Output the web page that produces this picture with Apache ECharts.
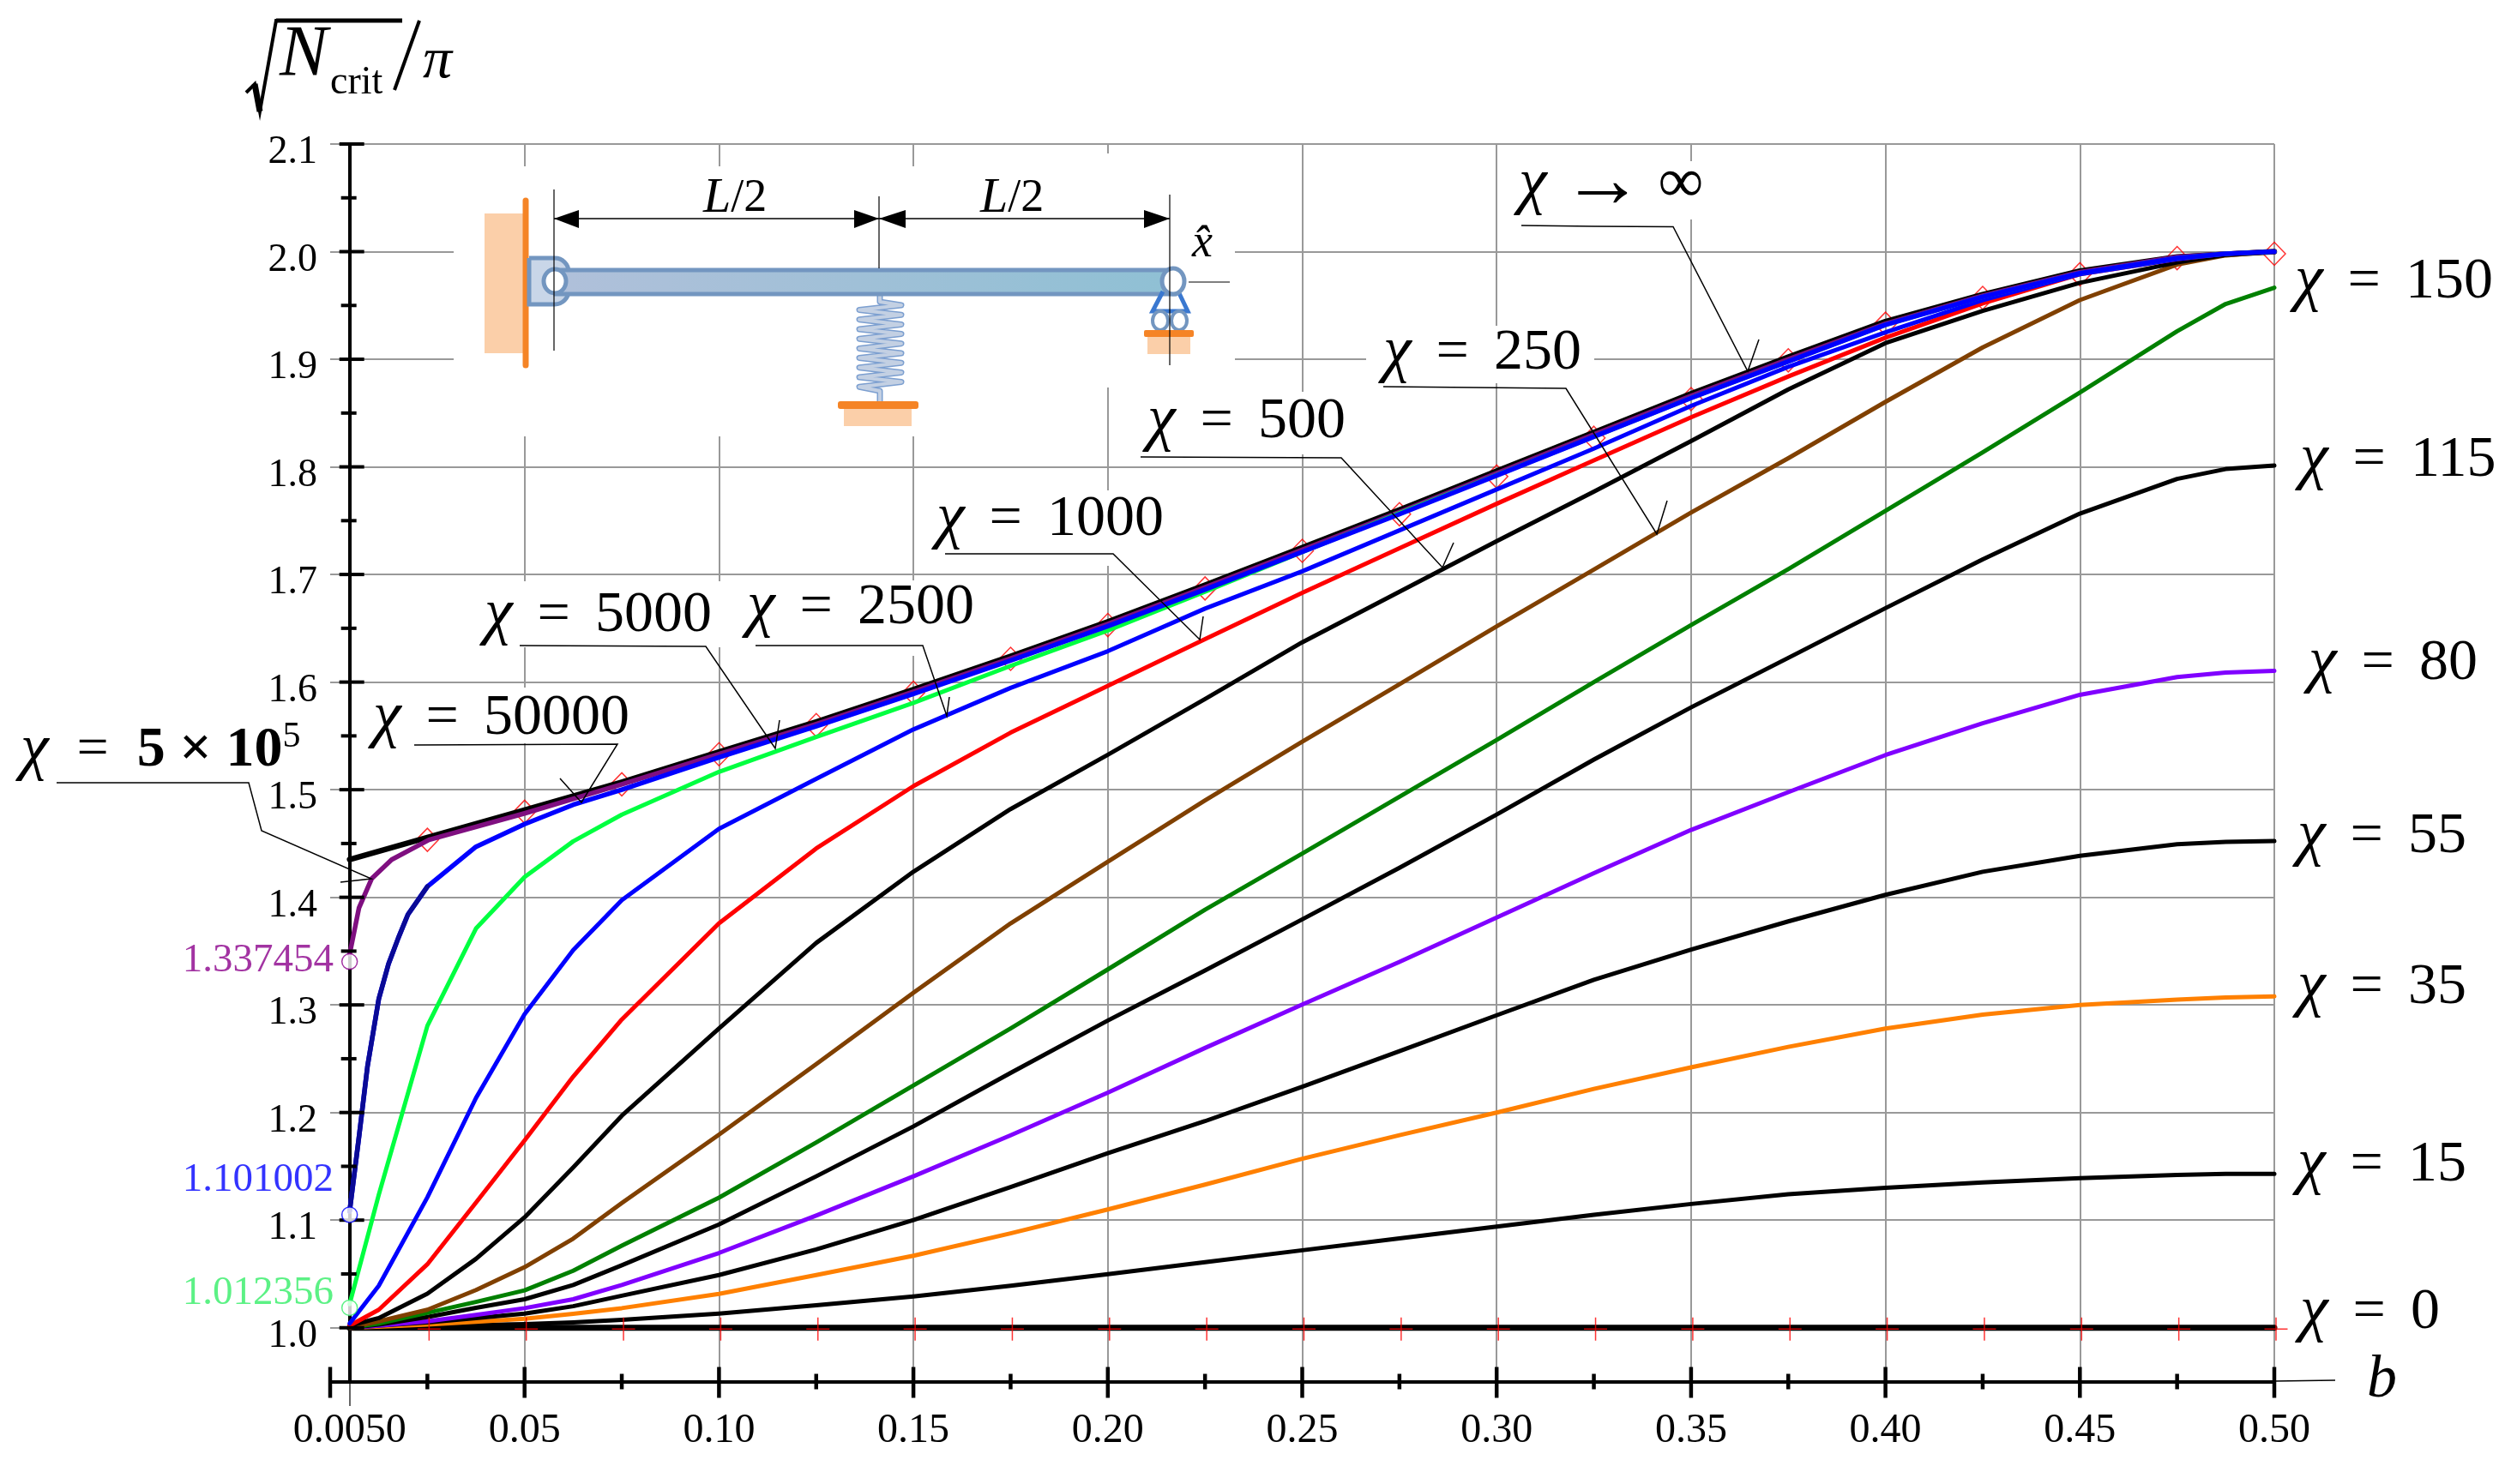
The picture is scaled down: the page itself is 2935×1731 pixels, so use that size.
<!DOCTYPE html>
<html>
<head>
<meta charset="utf-8">
<title>Critical load vs b</title>
<script src="https://cdn.jsdelivr.net/npm/echarts@6/dist/echarts.min.js"></script>
<style>
  html, body { margin: 0; padding: 0; background: #fff; }
  #chart { width: 2935px; height: 1731px; }
</style>
</head>
<body>
<div id="chart"></div>
<script>
// b positions shared by most curves
const bGrid = [0.005, 0.0125, 0.025, 0.0375, 0.05, 0.0625, 0.075, 0.1, 0.125, 0.15, 0.175, 0.2, 0.225, 0.25, 0.275, 0.3, 0.325, 0.35, 0.375, 0.4, 0.425, 0.45, 0.475, 0.4875, 0.5];

const chi0 = [1, 1, 1, 1, 1, 1, 1, 1, 1, 1, 1, 1, 1, 1, 1, 1, 1, 1, 1, 1, 1, 1, 1, 1, 1];
const chi15 = [1.0, 1.0005, 1.0015, 1.0025, 1.0033, 1.005, 1.0073, 1.0132, 1.0209, 1.0291, 1.0391, 1.0497, 1.061, 1.072, 1.083, 1.094, 1.105, 1.115, 1.124, 1.13, 1.135, 1.139, 1.142, 1.143, 1.143];
const chi35 = [1.0, 1.001, 1.003, 1.0055, 1.0083, 1.013, 1.0182, 1.0315, 1.049, 1.0669, 1.0877, 1.1099, 1.133, 1.157, 1.179, 1.2, 1.222, 1.242, 1.261, 1.278, 1.291, 1.3, 1.305, 1.307, 1.308];
const chi55 = [1.0, 1.002, 1.005, 1.009, 1.0132, 1.02, 1.0298, 1.049, 1.0728, 1.1, 1.1308, 1.1623, 1.192, 1.224, 1.257, 1.2904, 1.3234, 1.3514, 1.3776, 1.4023, 1.4237, 1.4385, 1.4493, 1.4516, 1.4523];
const chi80 = [1.0, 1.002, 1.006, 1.012, 1.0182, 1.0265, 1.0397, 1.0695, 1.1043, 1.1407, 1.1788, 1.2185, 1.26, 1.3003, 1.34, 1.3812, 1.4224, 1.4626, 1.4977, 1.5322, 1.5618, 1.5882, 1.6046, 1.6089, 1.6105];
const chi115 = [1.0, 1.003, 1.01, 1.0185, 1.0265, 1.0397, 1.058, 1.096, 1.1407, 1.1871, 1.2368, 1.2855, 1.332, 1.3795, 1.4274, 1.4769, 1.528, 1.5765, 1.6225, 1.6687, 1.714, 1.7566, 1.7888, 1.798, 1.8013];
const chi150 = [1.0, 1.004, 1.0138, 1.024, 1.0348, 1.053, 1.0762, 1.1209, 1.1722, 1.2252, 1.2781, 1.333, 1.3885, 1.4406, 1.4935, 1.5462, 1.6, 1.6529, 1.705, 1.7592, 1.8135, 1.869, 1.926, 1.9514, 1.9665];
const chi250 = [1.0, 1.006, 1.0167, 1.035, 1.0563, 1.0828, 1.1159, 1.1795, 1.245, 1.3113, 1.3758, 1.433, 1.49, 1.5446, 1.598, 1.6518, 1.7046, 1.7575, 1.808, 1.8604, 1.911, 1.955, 1.988, 1.9965, 2.0];
const chi500 = [1.002, 1.009, 1.0316, 1.064, 1.1026, 1.149, 1.197, 1.2781, 1.3576, 1.4238, 1.482, 1.5325, 1.5842, 1.637, 1.684, 1.731, 1.777, 1.824, 1.872, 1.915, 1.945, 1.971, 1.99, 1.997, 2.0];
const chi1000 = [1.002, 1.0167, 1.059, 1.1163, 1.174, 1.2334, 1.2864, 1.3758, 1.4454, 1.5033, 1.553, 1.5965, 1.64, 1.683, 1.7244, 1.7657, 1.806, 1.846, 1.884, 1.92, 1.952, 1.979, 1.993, 1.998, 2.0];
const chi2500 = [1.004, 1.039, 1.1212, 1.2135, 1.2914, 1.351, 1.3974, 1.4636, 1.51, 1.556, 1.5946, 1.6287, 1.6683, 1.703, 1.741, 1.779, 1.817, 1.8566, 1.893, 1.925, 1.955, 1.979, 1.993, 1.998, 2.0];
const chi5000 = [1.022, 1.1236, 1.2805, 1.371, 1.4189, 1.452, 1.4768, 1.5166, 1.549, 1.5806, 1.615, 1.648, 1.684, 1.7208, 1.757, 1.7924, 1.828, 1.8641, 1.898, 1.932, 1.958, 1.98, 1.994, 1.998, 2.0];

// steep curves have extra points near the wall
const b50000 = [0.005, 0.0075, 0.0096, 0.0125, 0.015, 0.0175, 0.02, 0.025, 0.0375, 0.05, 0.0625, 0.075, 0.1, 0.125, 0.15, 0.175, 0.2, 0.225, 0.25, 0.275, 0.3, 0.325, 0.35, 0.375, 0.4, 0.425, 0.45, 0.475, 0.4875, 0.5];
const chi50000 = [1.108, 1.18, 1.243, 1.3055, 1.338, 1.362, 1.384, 1.41, 1.447, 1.468, 1.486, 1.5, 1.53, 1.559, 1.589, 1.62, 1.652, 1.686, 1.721, 1.756, 1.792, 1.828, 1.864, 1.898, 1.932, 1.958, 1.98, 1.994, 1.998, 2.0];
const b500000 = [0.005, 0.0074, 0.0107, 0.0158, 0.0254, 0.05, 0.075, 0.1, 0.125, 0.15, 0.175, 0.2, 0.225, 0.25, 0.275, 0.3, 0.325, 0.35, 0.375, 0.4, 0.425, 0.45, 0.475, 0.4875, 0.5];
const chi500000 = [1.347, 1.39, 1.4175, 1.435, 1.4534, 1.478, 1.505, 1.533, 1.561, 1.591, 1.622, 1.654, 1.688, 1.723, 1.758, 1.794, 1.83, 1.866, 1.9, 1.933, 1.959, 1.981, 1.995, 1.998, 2.0];

const bInf = [0.005, 0.025, 0.05, 0.075, 0.1, 0.125, 0.15, 0.175, 0.2, 0.225, 0.25, 0.275, 0.3, 0.325, 0.35, 0.375, 0.4, 0.425, 0.45, 0.475, 0.5];
const chiInf = [1.435, 1.4555, 1.481, 1.507, 1.535, 1.563, 1.593, 1.624, 1.656, 1.69, 1.725, 1.76, 1.796, 1.832, 1.868, 1.902, 1.935, 1.96, 1.982, 1.995, 2.0];

// red reference markers
const bMarkers = [0.025, 0.05, 0.075, 0.1, 0.125, 0.15, 0.175, 0.2, 0.225, 0.25, 0.275, 0.3, 0.325, 0.35, 0.375, 0.4, 0.425, 0.45, 0.475, 0.5];
const diamondValues = [1.4534, 1.4795, 1.505, 1.533, 1.56, 1.59, 1.6216, 1.653, 1.687, 1.722, 1.756, 1.791, 1.827, 1.863, 1.899, 1.933, 1.957, 1.979, 1.994, 1.998];
const plusValues = [0.9988, 0.9988, 0.9988, 0.9988, 0.9988, 0.9988, 0.9988, 0.9988, 0.9988, 0.9988, 0.9988, 0.9988, 0.9988, 0.9988, 0.9988, 0.9988, 0.9988, 0.9988, 0.9988, 0.9988];

// circled start values on the axis
const startLabels = ["1.337454", "1.101002", "1.012356"];
const startCircles = [1.3403, 1.105, 1.0186];

// axis ticks and labels
const xMajorTicks = [0, 0.05, 0.1, 0.15, 0.2, 0.25, 0.3, 0.35, 0.4, 0.45, 0.5];
const xMinorTicks = [0.025, 0.075, 0.125, 0.175, 0.225, 0.275, 0.325, 0.375, 0.425, 0.475];
const xGridLines = [0.05, 0.1, 0.15, 0.2, 0.25, 0.3, 0.35, 0.4, 0.45, 0.5];
const xTickLabels = [0.005, 0.05, 0.1, 0.15, 0.2, 0.25, 0.3, 0.35, 0.4, 0.45, 0.5];
const yMajorTicks = [1.0, 1.1, 1.2, 1.3, 1.4, 1.5, 1.6, 1.7, 1.8, 1.9, 2.0, 2.1];
const yMinorTicks = [1.05, 1.15, 1.25, 1.35, 1.45, 1.55, 1.65, 1.75, 1.85, 1.95, 2.05];

const SERIF = '"Liberation Serif"';
const Y_AXIS_B = 0.005;

const pairs = (xs, ys) => xs.map((x, i) => [x, ys[i]]);

const curve = (name, xs, ys, color, width) => ({
  name: name,
  type: "line",
  data: pairs(xs, ys),
  showSymbol: false,
  silent: true,
  clip: false,
  lineStyle: { color: color, width: width, join: "round", cap: "round" },
});

const tickSeries = (data, renderOne) => ({
  type: "custom",
  silent: true,
  clip: false,
  encode: { x: 0, y: 1 },
  data: data,
  z: 4,
  renderItem: (params, api) => {
    const p = api.coord([api.value(0), api.value(1)]);
    return renderOne(p);
  },
});

const tickLine = (x1, y1, x2, y2, width) => ({
  type: "line",
  shape: { x1: x1, y1: y1, x2: x2, y2: y2 },
  style: { stroke: "#000", lineWidth: width },
});

const startDot = (index, color, labelOffset) => ({
  type: "scatter",
  silent: true,
  clip: false,
  z: 6,
  symbol: "circle",
  symbolSize: 18,
  data: [[Y_AXIS_B, startCircles[index]]],
  itemStyle: { color: "#fff", borderColor: color, borderWidth: 1.5 },
  label: {
    show: true,
    position: "left",
    distance: 9,
    offset: [0, labelOffset],
    formatter: startLabels[index],
    color: color,
    fontFamily: SERIF,
    fontSize: 47,
  },
});

const chiRich = {
  c: { fontFamily: SERIF, fontStyle: "italic", fontSize: 74 },
  b: { fontFamily: SERIF, fontWeight: "bold", fontSize: 66 },
  s: { fontFamily: SERIF, fontSize: 42, verticalAlign: "top" },
  a: { fontFamily: SERIF, fontSize: 96 },
  i: { fontFamily: SERIF, fontSize: 74 },
  e: { fontFamily: SERIF, fontSize: 58 },
};

const textEl = (text, x, y, font, extra) => ({
  type: "text",
  z: 8,
  silent: true,
  x: x,
  y: y,
  style: Object.assign({ text: text, font: font, fill: "#000", align: "left", verticalAlign: "middle" }, extra || {}),
});

const chiLabel = (value, x, y) =>
  textEl("{c|\u03C7}{e|\u00A0\u00A0}={e|\u00A0\u00A0}" + value, x, y + 4, "68px " + SERIF, { rich: chiRich });

const whiteBox = (x1, y1, x2, y2) => ({
  type: "rect",
  z: 1,
  silent: true,
  shape: { x: x1, y: y1, width: x2 - x1, height: y2 - y1 },
  style: { fill: "#fff" },
});

const leader = (points) => ({
  type: "polyline",
  z: 7,
  silent: true,
  shape: { points: points },
  style: { stroke: "#000", lineWidth: 1.5, fill: null },
});

const shape = (type, geom, style) => ({ type: type, z: 5, silent: true, shape: geom, style: style });

const springPoints = () => {
  const pts = [[1026, 345], [1026, 352]];
  for (let i = 0; i < 18; i++) {
    pts.push([i % 2 ? 1002 : 1051, 356 + i * 5.6]);
  }
  pts.push([1026, 456], [1026, 470]);
  return pts;
};

const insetDrawing = () => {
  const blueEdge = "#7396c0";
  const peach = "#fbcfa9";
  const orange = "#f58426";
  const labelRich = { c: { fontFamily: SERIF, fontStyle: "italic", fontSize: 58 } };
  return [
    shape("rect", { x: 565, y: 249, width: 45, height: 163 }, { fill: peach }),
    shape("line", { x1: 613, y1: 234, x2: 613, y2: 426 }, { stroke: orange, lineWidth: 7, lineCap: "round" }),
    shape("rect", { x: 617, y: 301, width: 46, height: 54, r: [0, 16, 16, 0] }, { fill: "#c9d6e8", stroke: blueEdge, lineWidth: 5 }),
    shape("polyline", { points: springPoints() }, { stroke: "#7c9fd0", lineWidth: 7, fill: null, lineJoin: "round" }),
    shape("polyline", { points: springPoints() }, { stroke: "#c3d0e3", lineWidth: 4, fill: null, lineJoin: "round" }),
    shape("rect", { x: 648, y: 315, width: 722, height: 28 }, {
      fill: {
        type: "linear", x: 0, y: 0, x2: 1, y2: 0,
        colorStops: [{ offset: 0, color: "#b0c0da" }, { offset: 1, color: "#8fc0d4" }],
      },
      stroke: blueEdge,
      lineWidth: 5,
    }),
    shape("ellipse", { cx: 647, cy: 328, rx: 13, ry: 14 }, { fill: "#fff", stroke: blueEdge, lineWidth: 5 }),
    shape("polyline", { points: [[1356, 340], [1344, 363], [1385, 363], [1374, 340]] }, { stroke: "#3a78d0", lineWidth: 5, fill: null }),
    shape("ellipse", { cx: 1368, cy: 328, rx: 13, ry: 15 }, { fill: "#fff", stroke: blueEdge, lineWidth: 5 }),
    shape("ellipse", { cx: 1353, cy: 374, rx: 9, ry: 11 }, { fill: "#fff", stroke: blueEdge, lineWidth: 4 }),
    shape("ellipse", { cx: 1375, cy: 374, rx: 9, ry: 11 }, { fill: "#fff", stroke: blueEdge, lineWidth: 4 }),
    shape("rect", { x: 1338, y: 393, width: 50, height: 20 }, { fill: peach }),
    shape("rect", { x: 1334, y: 385, width: 58, height: 8, r: 2 }, { fill: orange }),
    shape("rect", { x: 984, y: 476, width: 79, height: 21 }, { fill: peach }),
    shape("rect", { x: 977, y: 468, width: 94, height: 9, r: 3 }, { fill: orange }),
    // dimension lines
    shape("line", { x1: 646, y1: 221, x2: 646, y2: 409 }, { stroke: "#000", lineWidth: 1.2 }),
    shape("line", { x1: 1025, y1: 229, x2: 1025, y2: 313 }, { stroke: "#000", lineWidth: 1.2 }),
    shape("line", { x1: 1364, y1: 227, x2: 1364, y2: 426 }, { stroke: "#000", lineWidth: 1.2 }),
    shape("line", { x1: 1386, y1: 329, x2: 1434, y2: 329 }, { stroke: "#000", lineWidth: 1.2 }),
    shape("line", { x1: 646, y1: 255, x2: 1364, y2: 255 }, { stroke: "#000", lineWidth: 1.6 }),
    shape("polygon", { points: [[646, 255], [675, 245], [675, 266]] }, { fill: "#000" }),
    shape("polygon", { points: [[1025, 255], [996, 245], [996, 266]] }, { fill: "#000" }),
    shape("polygon", { points: [[1025, 255], [1056, 245], [1056, 266]] }, { fill: "#000" }),
    shape("polygon", { points: [[1364, 255], [1334, 245], [1334, 266]] }, { fill: "#000" }),
    textEl("{c|L}/2", 820, 232, "54px " + SERIF, { rich: labelRich }),
    textEl("{c|L}/2", 1143, 232, "54px " + SERIF, { rich: labelRich }),
    textEl("x\u0302", 1390, 285, "italic 54px " + SERIF),
  ];
};

const axisTitle = () => [
  shape("polyline", { points: [[287, 108], [297, 98], [303, 130], [322, 24], [469, 24]] }, { stroke: "#000", lineWidth: 4, fill: null }),
  shape("line", { x1: 297, y1: 98, x2: 303, y2: 130 }, { stroke: "#000", lineWidth: 7 }),
  shape("line", { x1: 322, y1: 24, x2: 469, y2: 24 }, { stroke: "#000", lineWidth: 5 }),
  shape("line", { x1: 489, y1: 24, x2: 460, y2: 105 }, { stroke: "#000", lineWidth: 4 }),
  textEl("N", 326, 66, "italic 84px " + SERIF),
  textEl("crit", 385, 97, "46px " + SERIF),
  textEl("\u03C0", 493, 72, "italic 68px " + SERIF),
  textEl("b", 2760, 1611, "italic 70px " + SERIF),
];

const labelBoxes = () => [
  whiteBox(529, 194, 1440, 452),
  whiteBox(529, 452, 1200, 509),
  whiteBox(1200, 179, 1440, 194),
  whiteBox(1750, 188, 2000, 256),
  whiteBox(1593, 380, 1859, 447),
  whiteBox(1325, 457, 1580, 530),
  whiteBox(1085, 572, 1365, 660),
  whiteBox(860, 677, 1145, 765),
  whiteBox(560, 678, 840, 755),
  whiteBox(430, 802, 740, 867),
];

const leaders = () => [
  leader([[1774, 263], [1858, 264], [1951, 264.5], [2038, 433], [2051, 396]]),
  leader([[1613, 451], [1826, 453], [1932, 623], [1944, 584]]),
  leader([[1330, 533], [1564, 534], [1682, 662], [1695, 633]]),
  leader([[1102, 646], [1298, 646], [1399, 746], [1403, 719]]),
  leader([[881, 753], [1076, 753], [1104, 835], [1107, 813]]),
  leader([[606, 753], [823, 754], [904, 873], [909, 840]]),
  leader([[483, 869], [720, 868], [678, 936], [653, 908]]),
  leader([[66, 913], [290, 913], [305, 969], [433, 1025], [397, 1029]]),
];

const chiLabels = () => [
  textEl("{c|\u03C7}\u00A0{a|\u2192}\u00A0{i|\u221E}", 1771, 216, "68px " + SERIF, { rich: chiRich }),
  chiLabel("250", 1613, 408),
  chiLabel("500", 1338, 488),
  chiLabel("1000", 1092, 602),
  chiLabel("2500", 871, 705),
  chiLabel("5000", 565, 714),
  chiLabel("50000", 435, 834),
  textEl("{c|\u03C7}\u00A0\u00A0=\u00A0\u00A0{b|5 \u00D7 10}{s|5}", 24, 876, "66px " + SERIF, { rich: chiRich }),
  chiLabel("150", 2676, 325),
  chiLabel("115", 2682, 533),
  chiLabel("80", 2692, 770),
  chiLabel("55", 2679, 972),
  chiLabel("35", 2679, 1148),
  chiLabel("15", 2679, 1355),
  chiLabel("0", 2682, 1527),
];

const getOption = () => ({
  animation: false,
  backgroundColor: "#fff",
  grid: { left: 385, width: 2267, top: 168, height: 1443.5, containLabel: false },
  xAxis: {
    type: "value",
    min: 0,
    max: 0.5,
    axisLine: { show: true, onZero: false, lineStyle: { color: "#000", width: 4 } },
    axisTick: { show: false, customValues: xGridLines },
    axisLabel: {
      customValues: xTickLabels,
      margin: 34,
      color: "#000",
      fontFamily: SERIF,
      fontSize: 48,
      formatter: (v) => (v === 0.005 ? "0.0050" : v.toFixed(2)),
    },
    splitLine: { show: true, lineStyle: { color: "#999", width: 2 } },
  },
  yAxis: {
    type: "value",
    min: 0.95,
    max: 2.1,
    offset: -23,
    axisLine: { show: true, onZero: false, lineStyle: { color: "#000", width: 4 } },
    axisTick: { show: false, customValues: yMajorTicks },
    axisLabel: {
      customValues: yMajorTicks,
      margin: 38,
      verticalAlign: "top",
      lineHeight: 20,
      color: "#000",
      fontFamily: SERIF,
      fontSize: 46,
      formatter: (v) => v.toFixed(1),
    },
    splitLine: { show: true, lineStyle: { color: "#999", width: 2 } },
  },
  graphic: { elements: [].concat(labelBoxes(), insetDrawing(), axisTitle(), leaders(), chiLabels(), [
    shape("line", { x1: 2652, y1: 1611, x2: 2723, y2: 1610 }, { stroke: "#000", lineWidth: 1.5 }),
    shape("line", { x1: 408, y1: 1611, x2: 408, y2: 1640 }, { stroke: "#000", lineWidth: 1.2 }),
  ]) },
  series: [
    {
      name: "markers",
      type: "scatter",
      silent: true,
      clip: false,
      z: 2,
      symbol: "diamond",
      symbolSize: [26, 27],
      data: pairs(bMarkers, diamondValues),
      itemStyle: { color: "rgba(0,0,0,0)", borderColor: "#ff0000", borderWidth: 1.5 },
    },
    curve("chi inf", bInf, chiInf, "#000000", 6.5),
    curve("chi 5e5", b500000, chi500000, "#7f0f80", 5.5),
    curve("chi 0", bGrid, chi0, "#000000", 7),
    curve("chi 15", bGrid, chi15, "#000000", 5),
    curve("chi 35", bGrid, chi35, "#ff8000", 5),
    curve("chi 55", bGrid, chi55, "#000000", 5),
    curve("chi 80", bGrid, chi80, "#8000ff", 5),
    curve("chi 115", bGrid, chi115, "#000000", 5),
    curve("chi 150", bGrid, chi150, "#008000", 5),
    curve("chi 250", bGrid, chi250, "#804000", 5),
    curve("chi 500", bGrid, chi500, "#000000", 5),
    curve("chi 1000", bGrid, chi1000, "#ff0000", 5),
    curve("chi 2500", bGrid, chi2500, "#0000ff", 5),
    curve("chi 5000", bGrid, chi5000, "#00ff40", 5),
    curve("chi 50000", b50000, chi50000, "#0000ff", 5.5),
    curve("chi 50000 low", b50000.slice(0, 8), chi50000.slice(0, 8), "#0a0a96", 5.5),
    {
      name: "plus markers",
      type: "scatter",
      silent: true,
      clip: false,
      z: 5,
      symbol: "path://M10 0V20M0 10H20",
      symbolSize: 27,
      symbolOffset: [2, 0],
      data: pairs(bMarkers, plusValues),
      itemStyle: { color: "rgba(0,0,0,0)", borderColor: "#ff0000", borderWidth: 1.5 },
    },
    tickSeries(yMajorTicks.map((v) => [Y_AXIS_B, v]), (p) => tickLine(p[0] - 12, p[1], p[0] + 17, p[1], 4)),
    tickSeries(yMinorTicks.map((v) => [Y_AXIS_B, v]), (p) => tickLine(p[0] - 10, p[1], p[0] + 8, p[1], 4)),
    tickSeries(xMajorTicks.map((v) => [v, 0.95]), (p) => tickLine(p[0], p[1] - 17, p[0], p[1] + 19, 4.5)),
    tickSeries(xMinorTicks.map((v) => [v, 0.95]), (p) => tickLine(p[0], p[1] - 9, p[0], p[1] + 9, 4.5)),
    startDot(0, "#8b008b", -1),
    startDot(1, "#0000ff", -40),
    startDot(2, "#33ee66", -17),
  ],
});

window.addEventListener("load", () => {
  const chart = echarts.init(document.getElementById("chart"));
  chart.setOption(getOption());
});
</script>
</body>
</html>
